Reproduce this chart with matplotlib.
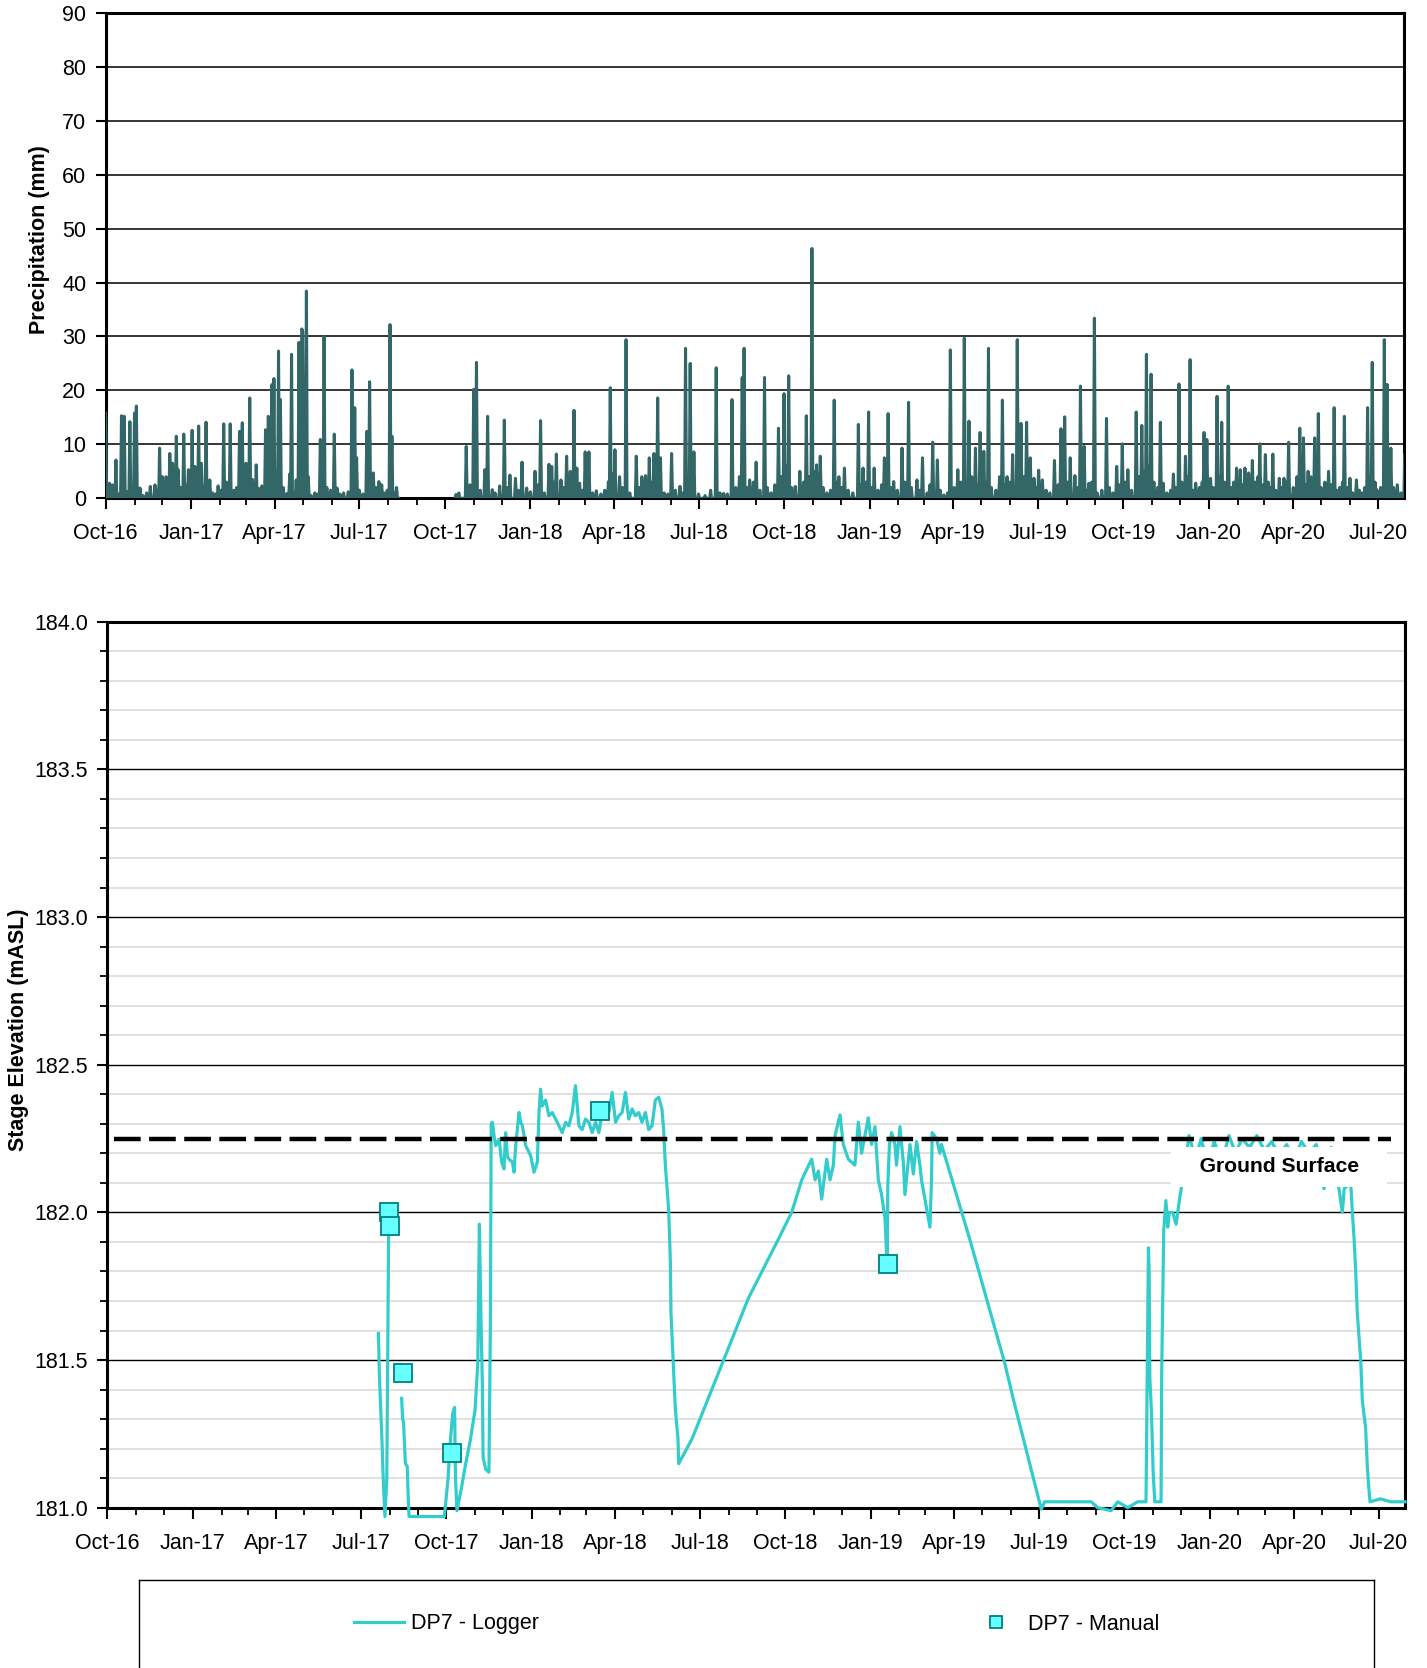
import numpy as np
import pandas as pd
import matplotlib
matplotlib.use("Agg")
import matplotlib.pyplot as plt
import matplotlib.dates as mdates

plt.rcParams['font.family'] = ['Liberation Sans', 'DejaVu Sans']
plt.rcParams['font.size'] = 15.5

START = pd.Timestamp('2016-10-01')
END_DAY = 1397.5

# daily precipitation (mm), day = days since 1 Oct 2016; unlisted days are dry
rain_day = [0, 2, 4, 7, 11, 17, 20, 26, 31, 33,
            37, 48, 53, 58, 61, 65, 69, 72, 76, 78,
            84, 89, 93, 96, 100, 103, 108, 112, 121, 127,
            134, 144, 147, 151, 155, 162, 168, 172, 175, 179,
            181, 186, 188, 195, 200, 205, 208, 211, 212, 216,
            221, 231, 235, 246, 249, 261, 265, 268, 270, 281,
            284, 288, 294, 297, 306, 308, 313,
            377, 388, 396, 399, 408, 411, 416, 424, 429, 435,
            441, 448, 453, 462, 468, 477, 480, 485, 490, 496,
            500, 504, 507, 510, 516, 520, 528, 541, 543, 548,
            553, 560, 571, 577, 581, 585, 590, 594, 597, 609,
            618, 624, 629, 633, 645, 657, 665, 674, 685, 687,
            693, 700, 709, 724, 730, 735, 742, 747, 754, 760,
            765, 769, 784, 789, 795, 810, 815, 821, 827, 838,
            842, 848, 857, 864, 873, 879, 890, 895, 902, 909,
            917, 924, 929, 936, 941, 945, 950, 962, 965, 970,
            976, 981, 985, 991, 995, 999, 1004, 1008, 1021, 1028,
            1032, 1038, 1043, 1049, 1053, 1058, 1064, 1077, 1088, 1094,
            1100, 1109, 1115, 1120, 1125, 1135, 1138, 1149, 1155, 1162,
            1167, 1173, 1182, 1185, 1189, 1196, 1201, 1208, 1217, 1221,
            1226, 1230, 1234, 1242, 1248, 1256, 1263, 1268, 1273, 1285,
            1289, 1294, 1301, 1305, 1316, 1322, 1328, 1333, 1339, 1346,
            1358, 1363, 1368, 1376, 1379, 1383, 1390, 1398]
rain_mm = [15.8, 1.5, 2.8, 2.5, 7.1, 15.3, 15.2, 14.2, 15.8, 17.1,
           1.9, 2.2, 2.5, 9.3, 4.0, 4.0, 8.3, 6.5, 11.5, 5.3,
           11.9, 5.3, 12.6, 5.9, 13.4, 6.5, 14.1, 3.4, 2.3, 13.8,
           13.8, 12.4, 14.0, 6.5, 18.6, 6.2, 2.3, 12.7, 15.2, 21.1,
           22.2, 27.3, 18.3, 0.9, 26.7, 3.4, 28.9, 31.4, 31.0, 38.4,
           0.5, 10.9, 30.0, 11.9, 1.9, 1.2, 23.8, 16.8, 7.5, 12.4,
           21.6, 4.7, 3.1, 2.5, 32.2, 11.5, 2.0,
           0.7, 9.6, 20.2, 25.2, 5.3, 15.2, 1.6, 2.3, 14.5, 4.3,
           3.7, 6.7, 1.9, 5.0, 14.4, 6.3, 5.9, 8.2, 3.4, 7.8,
           5.0, 16.3, 5.6, 2.8, 8.6, 8.6, 1.4, 3.1, 20.5, 9.0,
           4.0, 29.4, 7.8, 4.0, 4.2, 7.5, 8.3, 18.6, 7.5, 8.3,
           2.2, 27.8, 25.0, 8.6, 0.5, 24.2, 0.9, 18.3, 22.4, 27.8,
           3.4, 6.7, 22.4, 13.0, 19.4, 22.7, 2.2, 5.0, 15.3, 46.3,
           6.2, 7.8, 18.2, 4.0, 5.6, 13.7, 5.6, 16.0, 5.6, 7.5,
           15.7, 3.1, 9.3, 17.8, 3.4, 7.5, 10.4, 7.1, 0.6, 27.5,
           5.3, 29.7, 14.3, 9.3, 12.2, 8.7, 27.8, 4.0, 18.2, 4.0,
           8.1, 29.4, 13.9, 14.1, 7.5, 3.7, 5.2, 3.4, 7.0, 12.9,
           15.1, 7.5, 4.2, 20.8, 9.6, 2.8, 33.4, 14.8, 5.9, 10.1,
           5.3, 16.0, 13.5, 26.7, 23.0, 14.1, 2.8, 4.5, 21.2, 7.8,
           25.7, 2.8, 12.2, 10.9, 3.7, 18.9, 14.1, 20.8, 5.6, 5.3,
           5.6, 4.7, 7.0, 10.1, 8.1, 8.2, 3.7, 3.7, 10.4, 13.0,
           11.2, 5.0, 11.2, 15.7, 5.0, 16.8, 2.0, 15.2, 3.7, 3.4,
           16.8, 25.2, 1.6, 29.4, 21.1, 9.3, 2.5, 8.1]

# light-rain days between the storms (mm)
light_day = [14, 23, 40, 44, 56, 81, 86, 91, 105, 115,
             118, 124, 130, 138, 141, 158, 165, 177, 183, 191,
             198, 202, 214, 218, 225, 228, 238, 242, 252, 256,
             273, 277, 291, 300, 303, 310,
             380, 392, 403, 419, 432, 444, 457, 465, 472, 482,
             493, 513, 524, 533, 537, 545, 556, 564, 574, 588,
             601, 605, 613, 621, 627, 638, 651, 661, 669, 678,
             682, 690, 697, 704, 712, 716, 720, 727, 732, 738,
             751, 757, 762, 772, 776, 780, 787, 792, 799, 804,
             812, 818, 824, 831, 835, 845, 852, 860, 867, 876,
             884, 887, 898, 906, 913, 920, 932, 939, 948, 953,
             958, 968, 973, 979, 988, 993, 1002, 1012, 1016, 1025,
             1035, 1046, 1056, 1061, 1067, 1072, 1080, 1084, 1091, 1097,
             1104, 1112, 1118, 1122, 1128, 1132, 1142, 1146, 1152, 1158,
             1165, 1170, 1177, 1180, 1192, 1199, 1204, 1211, 1214, 1224,
             1228, 1232, 1237, 1240, 1245, 1251, 1253, 1259, 1266, 1271,
             1278, 1282, 1287, 1292, 1297, 1303, 1308, 1312, 1319, 1325,
             1331, 1336, 1342, 1349, 1352, 1355, 1361, 1366, 1372, 1381,
             1386, 1394]
light_mm = [0.8, 1.2, 0.5, 1.0, 1.5, 2.0, 2.5, 1.8, 2.2, 1.0,
            0.8, 1.5, 3.0, 1.5, 2.0, 3.5, 1.8, 4.0, 5.0, 2.0,
            4.5, 1.0, 2.5, 4.0, 1.0, 0.8, 2.0, 1.5, 0.8, 1.0,
            1.5, 0.8, 2.0, 1.0, 1.5, 1.0,
            1.0, 2.5, 1.5, 1.0, 2.0, 1.5, 1.2, 2.5, 1.0, 3.0,
            2.0, 1.5, 1.0, 0.8, 1.5, 4.5, 2.0, 1.0, 2.0, 3.0,
            1.0, 0.8, 1.5, 1.0, 4.0, 0.8, 1.5, 1.0, 0.8, 2.0,
            4.0, 2.0, 3.0, 1.5, 2.0, 1.0, 2.5, 4.0, 6.0, 2.0,
            3.0, 4.0, 5.0, 2.0, 1.0, 1.5, 3.0, 2.0, 1.5, 1.0,
            2.5, 3.0, 2.0, 1.5, 2.5, 2.0, 1.5, 3.0, 2.0, 1.5,
            1.0, 2.5, 1.5, 1.0, 2.0, 3.0, 4.0, 2.5, 3.0, 2.0,
            1.5, 2.5, 3.0, 2.0, 4.0, 3.0, 2.0, 1.5, 1.0, 2.5,
            3.0, 2.0, 1.5, 3.0, 1.0, 1.5, 2.0, 1.0, 2.5, 3.0,
            1.5, 4.0, 5.0, 6.0, 3.0, 2.0, 1.0, 1.5, 2.0, 3.0,
            4.0, 1.5, 2.0, 3.0, 2.0, 4.0, 3.0, 2.0, 3.0, 2.5,
            3.0, 2.0, 3.0, 4.0, 2.5, 3.0, 2.0, 1.5, 2.0, 3.0,
            2.0, 4.0, 3.0, 2.5, 4.0, 3.0, 2.0, 3.0, 2.5, 1.5,
            3.0, 2.0, 1.0, 1.5, 1.0, 2.0, 4.0, 3.0, 2.0, 4.0,
            2.0, 1.0]
rain_missing = (316, 376)  # no record

# DP7 logger stage (mASL), nan marks a break in the record
logger_day = [292, 293, 294, 296, 297, 299, 301, 303,
              np.nan,
              317, 318, 319, 321, 323, 324, 325, 340, 355, 363,
              367, 369, 372, 374, 375, 376.5, 381, 386, 391, 396,
              399, 400.7, 402, 404, 404.7, 407.6, 411, 412.5, 413.4,
              414.7, 416.5, 418.3, 421.9, 424.7, 427.2, 429.0, 430.8, 432.6, 436.2,
              438.0, 439.8, 443.4, 445.2, 447.0, 450.6, 455.9, 459.5, 463.1, 464.9,
              466.6, 468.4, 472.0, 475.6, 479.2, 482.8, 486.4, 489.9, 493.6, 497.1,
              500.7, 504.2, 507.9, 511.4, 515.0, 518.6, 522.2, 525.8, 529.4, 532.9,
              536.5, 540.1, 543.7, 547.3, 550.8, 554.4, 558.0, 561.6, 565.2, 568.7,
              572.3, 575.8, 579.5, 583.0, 586.6, 590.2, 593.8, 597.3, 599.1, 601.0,
              604.5, 606.4, 607.0, 609.9, 611.7, 614.6, 615.3,
              629.7, 690.5, 722.8, 737, 747.9, 756.9, 758.6,
              762.2, 765.8, 769.3, 774.7, 778.3, 781.9, 783.7, 789.1, 792.6, 798.0,
              805.1, 808.8, 812.3, 819.5, 823.1, 826.7, 830.3, 833.8, 837.5, 839.2,
              840.0, 840.5, 842.3, 844.6, 848.2, 849.9, 853.6, 857.2, 859.0, 862.5,
              864.4, 868.0, 871.5, 875.1, 876.8, 880.5, 885.9, 887.6, 888.3, 893.0,
              896.6, 898.3, 928.7, 966.4, 977.1, 1005.8,
              1009.4, 1027.3, 1045.3, 1059.6, 1066.7, 1081.0, 1088.2, 1098.9, 1109.7, 1118.6,
              1121.2, 1122.0, 1122.7, 1124.5, 1126.3, 1128.0, 1134.8, 1135.5, 1137.7, 1140.0,
              1142.0, 1143.7, 1147.3, 1151.0, 1154.5,
              1160, 1165, 1172, 1178, 1185, 1192, 1200, 1208, 1215, 1222,
              1230, 1238, 1246, 1254, 1262, 1270, 1278, 1286, 1294, 1302,
              1310.3, 1318, 1326.4, 1330, 1332, 1339, 1340.8, 1342.7, 1344.4, 1346.1,
              1349.8, 1351.6, 1355.1, 1356.9, 1358.7, 1359.8, 1371.2, 1381.9, 1392.7, 1397.5]
logger_elev = [181.59, 181.45, 181.37, 181.21, 181.11, 180.97, 181.10, 181.95,
               np.nan,
               181.37, 181.30, 181.29, 181.15, 181.14, 181.04, 180.97, 180.97, 180.97, 180.97,
               181.10, 181.21, 181.32, 181.34, 181.10, 180.99, 181.06, 181.15, 181.23, 181.33,
               181.49, 181.96, 181.71, 181.40, 181.17, 181.13, 181.12, 181.60, 182.30,
               182.305, 182.26, 182.226, 182.248, 182.17, 182.147, 182.27, 182.19, 182.18, 182.17,
               182.136, 182.226, 182.338, 182.305, 182.293, 182.226, 182.192, 182.136, 182.17, 182.338,
               182.417, 182.36, 182.38, 182.327, 182.338, 182.316, 182.293, 182.27, 182.305, 182.293,
               182.338, 182.429, 182.293, 182.28, 182.316, 182.305, 182.27, 182.305, 182.27, 182.338,
               182.316, 182.338, 182.406, 182.305, 182.327, 182.338, 182.406, 182.316, 182.35, 182.327,
               182.338, 182.305, 182.338, 182.28, 182.293, 182.38, 182.39, 182.35, 182.28, 182.158,
               182.011, 181.83, 181.662, 181.459, 181.335, 181.233, 181.149,
               181.233, 181.71, 181.91, 182.0, 182.11, 182.17, 182.18,
               182.11, 182.14, 182.045, 182.18, 182.11, 182.16, 182.26, 182.33, 182.23, 182.18,
               182.16, 182.305, 182.20, 182.32, 182.23, 182.29, 182.11, 182.06, 181.98, 181.86,
               181.84, 182.09, 182.23, 182.27, 182.23, 182.16, 182.29, 182.17, 182.06, 182.17,
               182.23, 182.13, 182.24, 182.16, 182.11, 182.045, 181.95, 182.11, 182.27, 182.25,
               182.20, 182.23, 181.91, 181.49, 181.35, 180.995,
               181.02, 181.02, 181.02, 181.02, 181.0, 180.99, 181.02, 181.0, 181.02, 181.02,
               181.88, 181.80, 181.44, 181.32, 181.12, 181.02, 181.02, 181.46, 181.94, 182.04,
               181.95, 182.0, 182.0, 181.96, 182.04,
               182.15, 182.26, 182.18, 182.25, 182.16, 182.24, 182.17, 182.26, 182.20, 182.25,
               182.22, 182.26, 182.21, 182.24, 182.19, 182.23, 182.18, 182.24, 182.20, 182.23,
               182.08, 182.22, 182.08, 182.0, 182.08, 182.1, 182.0, 181.91, 181.80, 181.66,
               181.50, 181.36, 181.27, 181.14, 181.06, 181.02, 181.03, 181.02, 181.02, 181.02]

# DP7 manual readings
manual_day = [302.9, 304.4, 318.0, 371.7, 531.1, 841.0]
manual_elev = [182.00, 181.955, 181.455, 181.186, 182.344, 181.825]

# ground surface reference
ground_day = [7, 1382]
ground_elev = [182.25, 182.25]


def to_dates(days):
    return START + pd.to_timedelta(np.asarray(days, dtype=float), unit='D')


# build daily precipitation record
all_days = np.arange(0, 1399)
precip = np.zeros(len(all_days))
precip[light_day] = light_mm
precip[rain_day] = rain_mm
precip[rain_missing[0]:rain_missing[1]] = np.nan

fig = plt.figure(figsize=(14.27, 16.68), dpi=100)
W, H = 1427.0, 1668.0
ax1 = fig.add_axes([105.7 / W, 1 - 498.3 / H, 1298.6 / W, 485.5 / H])
ax2 = fig.add_axes([107.3 / W, 1 - 1507.7 / H, 1297.7 / W, 886.0 / H])

xlim = (START, START + pd.Timedelta(days=END_DAY))

# --- precipitation panel
ax1.plot(to_dates(all_days), precip, color='#336666', lw=2.2, zorder=3)
ax1.set_ylim(0, 90)
ax1.set_yticks(np.arange(0, 91, 10))
ax1.grid(axis='y', color='black', lw=1.1)
ax1.set_axisbelow(True)
ax1.set_ylabel('Precipitation (mm)', fontweight='bold')
ax1.yaxis.set_label_coords(-0.043, 0.533)

# --- stage panel
ax2.plot(to_dates(logger_day), logger_elev, color='#33CCCC', lw=2.3,
         zorder=3, clip_on=False, label='DP7 - Logger')
ax2.plot(to_dates(manual_day), manual_elev, ls='none', marker='s', ms=13.5,
         mfc='#66FFFF', mec='#008080', mew=1.3, zorder=4, label='DP7 - Manual')
ax2.plot(to_dates(ground_day), ground_elev, color='black', lw=3.2,
         dashes=(6, 1.9), zorder=4)
ax2.text(START + pd.Timedelta(days=1262), 182.154, '   Ground Surface   ',
         ha='center', va='center', fontweight='bold', fontsize=15.2, zorder=5,
         bbox=dict(boxstyle='square,pad=0.5', fc='white', ec='none'))
ax2.set_ylim(181.0, 184.0)
ax2.set_yticks(np.arange(181.0, 184.01, 0.5))
ax2.set_yticks(np.arange(181.0, 184.01, 0.1), minor=True)
ax2.yaxis.set_major_formatter(plt.FormatStrFormatter('%.1f'))
ax2.grid(axis='y', which='minor', color='#d9d9d9', lw=1.1)
ax2.grid(axis='y', which='major', color='black', lw=1.0)
ax2.set_axisbelow(True)
ax2.set_ylabel('Stage Elevation (mASL)', fontweight='bold')
ax2.yaxis.set_label_coords(-0.060, 0.539)

for ax in (ax1, ax2):
    ax.set_xlim(xlim)
    ax.xaxis.set_major_locator(mdates.MonthLocator(bymonth=[1, 4, 7, 10]))
    ax.xaxis.set_minor_locator(mdates.MonthLocator())
    ax.xaxis.set_major_formatter(mdates.DateFormatter('%b-%y'))
    ax.tick_params(which='major', direction='out', length=8, width=1.5,
                   labelsize=15.5, pad=10)
    ax.tick_params(which='minor', direction='out', length=5, width=1.3)
    ax.tick_params(axis='y', which='major', length=7, pad=7)
    for s in ax.spines.values():
        s.set_linewidth(2.2)
        s.set_color('black')

# --- legend box
ax3 = fig.add_axes([139.4 / W, 0, 1234.4 / W, 88.0 / H])
ax3.set_xticks([])
ax3.set_yticks([])
ax3.spines['bottom'].set_visible(False)
for s in ax3.spines.values():
    s.set_linewidth(1.0)
h, l = ax2.get_legend_handles_labels()
ax3.legend(h, l, loc='center', ncol=2, frameon=False, fontsize=15.5,
           handlelength=2.33, handletextpad=0.3, columnspacing=20.1,
           markerscale=0.65)

fig.savefig('out.png', dpi=100)
